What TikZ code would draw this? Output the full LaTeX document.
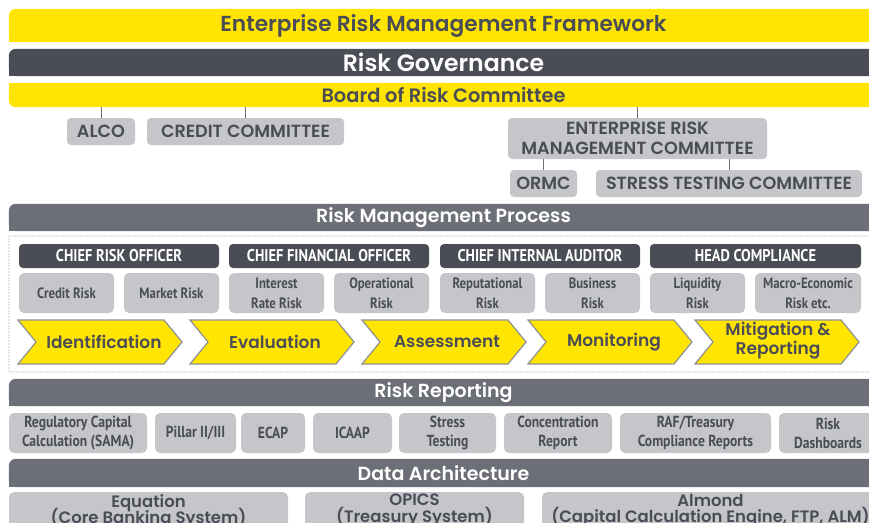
\documentclass[tikz,border=0pt]{standalone}
\usepackage{fontspec}
\setmainfont{Poppins}[BoldFont={Poppins SemiBold}]
\newfontfamily\condfont{PT Sans}[FakeStretch=0.85]
\definecolor{ermyellow}{HTML}{FFE500}
\definecolor{ermdark}{HTML}{4A4D55}
\definecolor{ermmid}{HTML}{6C6F77}
\definecolor{ermlight}{HTML}{C5C6CA}
\definecolor{ermedge}{HTML}{8E9096}
\newcommand{\tightlines}{\lineskiplimit -20pt\relax}
\pgfdeclarelayer{bars}
\pgfsetlayers{bars,main}
% band fills: rounded on the left at the top only, or at the bottom only
\newcommand{\bandtop}[2]{%
  \begin{pgfonlayer}{bars}
    \fill[#2, rounded corners=7pt] (#1.south west) rectangle (#1.north east);
    \fill[#2] (#1.west) rectangle (#1.south east);
  \end{pgfonlayer}}
\newcommand{\bandbottom}[2]{%
  \begin{pgfonlayer}{bars}
    \fill[#2, rounded corners=7pt] (#1.south west) rectangle (#1.north east);
    \fill[#2] (#1.north west) rectangle (#1.east);
  \end{pgfonlayer}}
\tikzset{
  bar/.style={inner sep=0pt, minimum width=869pt, font=\bfseries},
  yellowbar/.style={bar, text=ermdark},
  darkbar/.style={bar, text=white},
  midbar/.style={bar, text=white, font=\bfseries\fontsize{19}{20}\selectfont},
  committee/.style={fill=ermlight, text=ermdark, rounded corners=4pt, inner sep=0pt,
    minimum height=27pt, align=center, font=\bfseries\fontsize{17.6}{19}\selectfont},
  officer/.style={fill=ermdark, text=white, rounded corners=4pt, inner sep=0pt,
    minimum height=24pt, font=\condfont\bfseries\fontsize{17}{18}\selectfont},
  riskbox/.style={fill=ermlight, text=ermdark, rounded corners=5pt, inner sep=0pt,
    minimum height=40pt, align=center, font=\condfont\bfseries\fontsize{15}{20}\selectfont},
  reportbox/.style={riskbox, font=\condfont\bfseries\fontsize{16}{19}\selectfont},
  sysbox/.style={fill=ermlight, text=ermdark, rounded corners=5pt, inner xsep=0pt, inner ysep=2pt,
    anchor=north, align=center, font={\bfseries\fontsize{16.5}{16.5}\selectfont\tightlines}},
  link/.style={draw=ermmid, line width=1pt},
  chev/.style={fill=ermyellow, draw=ermedge, line width=1.2pt, line join=miter},
  chevtext/.style={text=ermdark, align=center, font=\bfseries\fontsize{17}{19}\selectfont},
  procframe/.style={draw=ermedge, line width=1.3pt, dash pattern=on 0pt off 3pt, line cap=round},
}
% draw one chevron of the process strip: #1 = left edge
\newcommand{\chevronshape}[1]{%
  \path[chev] (#1,320) -- ++(146,0) -- ++(18,22) -- ++(-18,22) -- (#1,364) -- ++(18,-22) -- cycle;}
\begin{document}
\begin{tikzpicture}[x=1pt, y=-1pt]
\useasboundingbox (0,0) rectangle (869,522);
\clip (0,0) rectangle (869,522);

% ---------------- governance ----------------
\node[yellowbar, minimum height=33pt, font=\bfseries\fontsize{21.7}{22}\selectfont] (erm) at (443.5,25.5) {Enterprise Risk Management Framework};
\node[darkbar, minimum height=27pt, font=\bfseries\fontsize{23.6}{24}\selectfont] (gov) at (443.5,62.5) {Risk Governance};
\node[yellowbar, minimum height=24pt, font=\bfseries\fontsize{19.4}{20}\selectfont] (board) at (443.5,95) {Board of Risk Committee};
\bandtop{erm}{ermyellow}
\bandtop{gov}{ermdark}
\bandbottom{board}{ermyellow}

\node[committee, minimum width=68pt] (alco) at (101,131.5) {ALCO};
\node[committee, minimum width=197pt] (credit) at (245.5,131.5) {CREDIT COMMITTEE};
\node[committee, minimum width=259pt, minimum height=41pt, font=\bfseries\fontsize{17.6}{20}\selectfont] (ermc) at (637.5,138.5) {ENTERPRISE RISK\\MANAGEMENT COMMITTEE};
\node[committee, minimum width=67pt] (ormc) at (543.5,183.5) {ORMC};
\node[committee, minimum width=266pt] (stc) at (729,183.5) {STRESS TESTING COMMITTEE};

\draw[link] (board.south -| alco.north) -- (alco.north);
\draw[link] (board.south -| credit.north) -- (credit.north);
\draw[link] (board.south -| ermc.north) -- (ermc.north);
\draw[link] (ermc.south -| ormc.north) -- (ormc.north);
\draw[link] (ermc.south -| stc.north) -- (stc.north);

% ---------------- risk management process ----------------
\node[midbar, minimum height=27pt] (rmp) at (443.5,217.5) {Risk Management Process};
\bandtop{rmp}{ermmid}
\draw[procframe] (9,236) rectangle (878,372);

\node[officer, minimum width=200pt] (cro) at (119,256) {CHIEF RISK OFFICER};
\node[officer, minimum width=200pt] (cfo) at (329,256) {CHIEF FINANCIAL OFFICER};
\node[officer, minimum width=200pt] (cia) at (540,256) {CHIEF INTERNAL AUDITOR};
\node[officer, minimum width=211pt] (hc) at (755.5,256) {HEAD COMPLIANCE};

\node[riskbox, minimum width=95pt] (credrisk) at (66.5,293) {Credit Risk};
\node[riskbox, minimum width=95pt] (mktrisk) at (171.5,293) {Market Risk};
\node[riskbox, minimum width=95pt] (irrisk) at (276.5,293) {Interest\\Rate Risk};
\node[riskbox, minimum width=95pt] (oprisk) at (381.5,293) {Operational\\Risk};
\node[riskbox, minimum width=95pt] (reprisk) at (487.5,293) {Reputational\\Risk};
\node[riskbox, minimum width=95pt] (busrisk) at (592.5,293) {Business\\Risk};
\node[riskbox, minimum width=95pt] (liqrisk) at (697.5,293) {Liquidity\\Risk};
\node[riskbox, minimum width=106pt] (macrisk) at (808,293) {Macro-Economic\\Risk etc.};

\chevronshape{18}
\chevronshape{190}
\chevronshape{362}
\chevronshape{528}
\chevronshape{695}
\node[chevtext] (ident) at (104,342) {Identification};
\node[chevtext] (evalu) at (275,342) {Evaluation};
\node[chevtext] (assess) at (447,342) {Assessment};
\node[chevtext] (monit) at (614,342) {Monitoring};
\node[chevtext] (mitig) at (778,341) {Mitigation \&\\Reporting};

% ---------------- risk reporting ----------------
\node[midbar, minimum height=27pt] (rr) at (443.5,392.5) {Risk Reporting};
\bandtop{rr}{ermmid}
\node[reportbox, minimum width=138pt] (regcap) at (78,433) {Regulatory Capital\\Calculation (SAMA)};
\node[reportbox, minimum width=81pt] (pillar) at (195.5,433) {Pillar II/III};
\node[reportbox, minimum width=64pt] (ecap) at (273,433) {ECAP};
\node[reportbox, minimum width=79pt] (icaap) at (352.5,433) {ICAAP};
\node[reportbox, minimum width=97pt] (stress) at (447.5,433) {Stress\\Testing};
\node[reportbox, minimum width=108pt] (conc) at (558,433) {Concentration\\Report};
\node[reportbox, minimum width=151pt] (raf) at (695.5,433) {RAF/Treasury\\Compliance Reports};
\node[reportbox, minimum width=98pt] (dash) at (828,433) {Risk\\Dashboards};

% ---------------- data architecture ----------------
\node[midbar, minimum height=28pt] (data) at (443.5,473) {Data Architecture};
\bandtop{data}{ermmid}
\node[sysbox, minimum width=279pt] (equation) at (148.5,492) {Equation\\(Core Banking System)};
\node[sysbox, minimum width=219pt] (opics) at (414.5,492) {OPICS\\(Treasury System)};
\node[sysbox, minimum width=337pt] (almond) at (710.5,492) {Almond\\(Capital Calculation Engine, FTP, ALM)};
\end{tikzpicture}
\end{document}
